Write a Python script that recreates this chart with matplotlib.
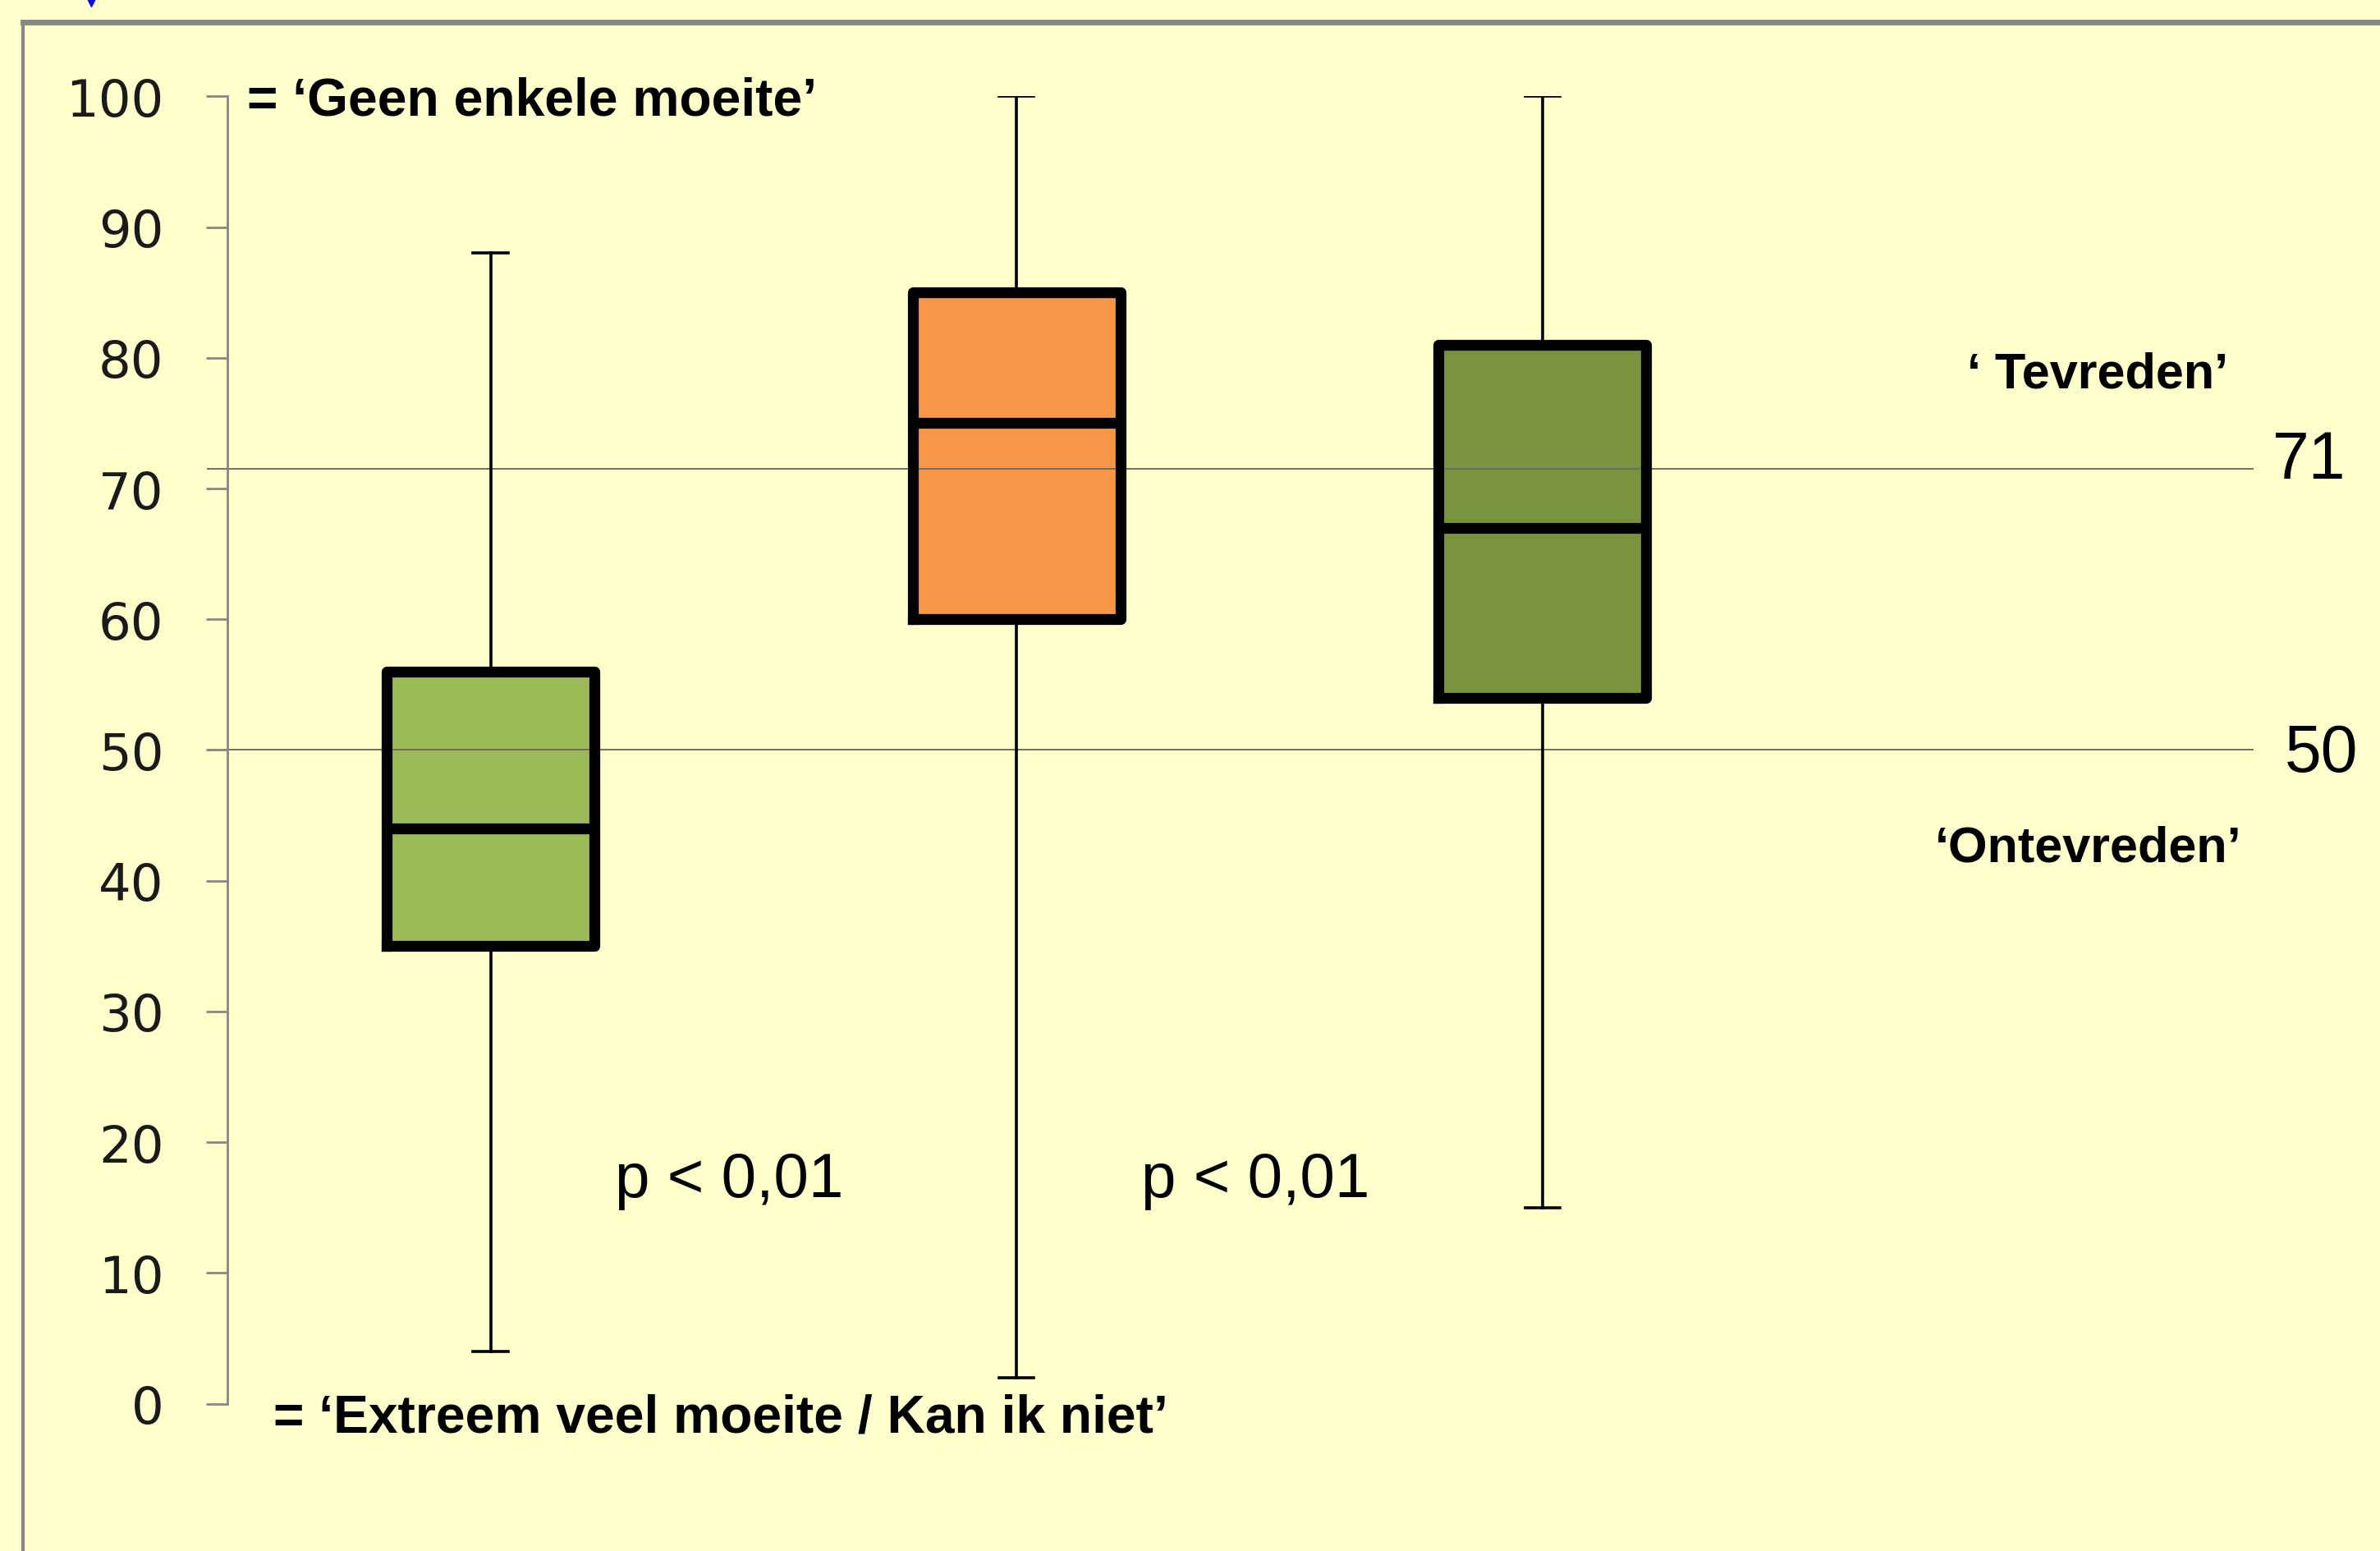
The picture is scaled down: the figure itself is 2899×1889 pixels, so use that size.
import matplotlib.pyplot as plt
from matplotlib.lines import Line2D

# box statistics
groups = ["groep 1", "groep 2", "groep 3"]
whis_low = [4, 2, 15]
q1 = [35, 60, 54]
median = [44, 75, 67]
q3 = [56, 85, 81]
whis_high = [88, 100, 100]
box_colors = ["#9BBB59", "#F79646", "#77933C"]

# reference lines and their labels
ref_values = [71.5, 50]
ref_labels = ["71", "50"]

yticks = list(range(0, 101, 10))

bg = "#FFFFCC"
W, H = 1568, 1022  # layout measured on the shrunk reference


def fx(x):
    return x / W


def fy(y):
    return 1 - y / H


fig = plt.figure(figsize=(28.99, 18.90), dpi=100, facecolor=bg)
ax = fig.add_axes([fx(150), fy(925), 1 - fx(150), fy(64) - fy(925)])
ax.set_facecolor(bg)
ax.patch.set_alpha(0)

stats = []
for i in range(len(groups)):
    stats.append({"label": groups[i], "whislo": whis_low[i], "q1": q1[i],
                  "med": median[i], "q3": q3[i], "whishi": whis_high[i],
                  "fliers": []})
positions = [1, 2, 3]

# fill first, so the reference lines run over the fill but under the outlines
fill = ax.bxp(stats, positions=positions, widths=0.395, patch_artist=True,
              showcaps=False, boxprops=dict(linewidth=0),
              medianprops=dict(linewidth=0), whiskerprops=dict(linewidth=0),
              manage_ticks=False, zorder=1)
for patch, c in zip(fill["boxes"], box_colors):
    patch.set_facecolor(c)

ax.hlines(ref_values, 0.46, 4.353, colors="#6E6E64", linewidth=1.4,
          clip_on=False, zorder=1.5)

ax.bxp(stats, positions=positions, widths=0.395, capwidths=0.066,
       boxprops=dict(color="black", linewidth=9.5),
       medianprops=dict(color="black", linewidth=9.5),
       whiskerprops=dict(color="black", linewidth=2.6),
       capprops=dict(color="black", linewidth=2.6),
       manage_ticks=False, zorder=3)

ax.set_xlim(0.5, 4.593)
ax.set_ylim(0, 100)
ax.set_yticks(yticks)
ax.set_xticks([])
for s in ["top", "right", "bottom"]:
    ax.spines[s].set_visible(False)
ax.spines["left"].set_color("#878787")
ax.spines["left"].set_linewidth(2)
ax.tick_params(axis="y", length=19, width=2, color="#878787", pad=37,
               labelsize=45, labelcolor="#1A1A1A")

# slide frame
fig.add_artist(Line2D([fx(15), 1], [fy(15), fy(15)], color="#888888",
                      linewidth=5, transform=fig.transFigure))
fig.add_artist(Line2D([fx(15), fx(15)], [0, fy(15)], color="#888888",
                      linewidth=3, transform=fig.transFigure))
fig.add_artist(Line2D([fx(60)], [fy(1)], marker="v", markersize=10,
                      color="#1010E0", linestyle="none",
                      transform=fig.transFigure))

bold_big = dict(family="Liberation Sans", fontweight="bold", fontsize=46.2)
fig.text(fx(163), fy(67), "= \u2018Geen enkele moeite\u2019", ha="left",
         va="center", **bold_big)
fig.text(fx(180), fy(934), "= \u2018Extreem veel moeite / Kan ik niet\u2019",
         ha="left", va="center", **bold_big)

fig.text(fx(1382), fy(247), "\u2018 Tevreden\u2019", ha="center",
         va="center", family="Liberation Sans", fontweight="bold", fontsize=44)
fig.text(fx(1376), fy(559), "\u2018Ontevreden\u2019", ha="center",
         va="center", family="Liberation Sans", fontweight="bold", fontsize=44)

fig.text(fx(1497), fy(304), ref_labels[0], ha="left", va="center",
         family="Liberation Sans", fontsize=58)
fig.text(fx(1505), fy(497), ref_labels[1], ha="left", va="center",
         family="Liberation Sans", fontsize=58)

for x0 in [405, 752]:
    fig.text(fx(x0), fy(778), "p < 0,01", ha="left", va="center",
             family="Liberation Sans", fontsize=55)

fig.savefig("out.png", dpi=100, facecolor=bg)
